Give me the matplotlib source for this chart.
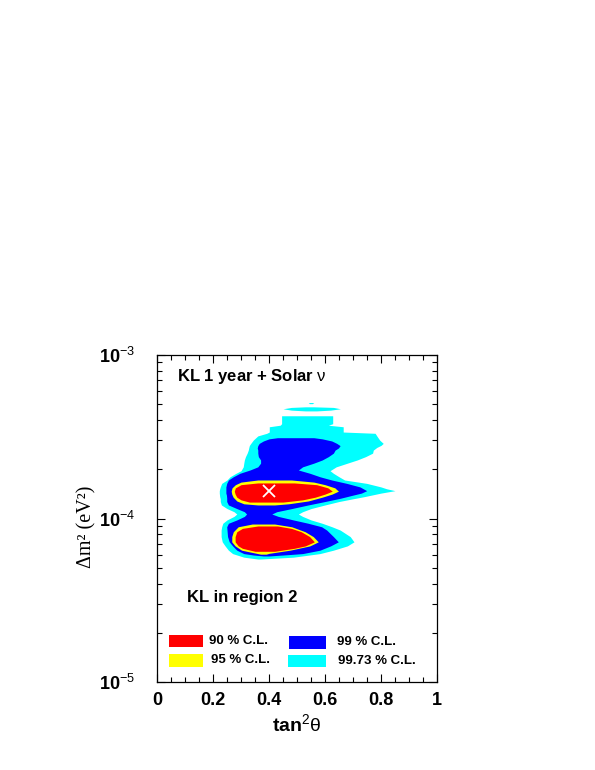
import matplotlib
matplotlib.use("Agg")
import matplotlib.pyplot as plt
from matplotlib.ticker import MultipleLocator, LogLocator, NullFormatter
from matplotlib.patches import Rectangle

plt.rcParams['font.family'] = ['Liberation Sans', 'DejaVu Sans']
plt.rcParams['mathtext.fontset'] = 'custom'
plt.rcParams['mathtext.rm'] = 'Liberation Sans'
plt.rcParams['mathtext.bf'] = 'Liberation Sans:bold'
plt.rcParams['mathtext.it'] = 'Liberation Sans:italic'

# ---------------- data (tan^2 theta, delta m^2) ----------------
# 99.73 % C.L. region (main body): rows of dm2 with left/right tan^2 edges
cyan_dm2 = [4.25e-4, 3.80e-4, 3.72e-4, 3.64e-4, 3.38e-4, 3.32e-4, 3.20e-4, 3.02e-4,
            2.88e-4, 2.80e-4, 2.72e-4, 2.62e-4, 2.51e-4, 2.39e-4, 2.28e-4, 2.18e-4,
            2.07e-4, 1.96e-4, 1.89e-4, 1.80e-4, 1.72e-4, 1.64e-4, 1.56e-4, 1.52e-4,
            1.48e-4, 1.43e-4, 1.36e-4, 1.32e-4, 1.27e-4, 1.21e-4, 1.15e-4, 1.10e-4,
            1.065e-4, 1.03e-4, 9.8e-5, 9.35e-5, 8.9e-5, 8.5e-5, 7.75e-5, 7.2e-5,
            6.8e-5, 6.4e-5, 6.1e-5, 5.8e-5, 5.65e-5]
cyan_left = [0.445, 0.445, 0.44, 0.401, 0.401, 0.392, 0.36, 0.344,
             0.335, 0.33, 0.328, 0.326, 0.322, 0.316, 0.312, 0.31,
             0.308, 0.30, 0.282, 0.261, 0.25, 0.231, 0.226, 0.224,
             0.2225, 0.2225, 0.224, 0.226, 0.226, 0.23, 0.25, 0.275,
             0.285, 0.275, 0.25, 0.235, 0.231, 0.229, 0.229, 0.233,
             0.243, 0.255, 0.27, 0.31, 0.36]
cyan_right = [0.6275, 0.6275, 0.612, 0.665, 0.665, 0.779, 0.785, 0.795,
              0.808, 0.80, 0.785, 0.7725, 0.77, 0.745, 0.715, 0.68,
              0.64, 0.618, 0.63, 0.65, 0.67, 0.749, 0.80, 0.82,
              0.85, 0.80, 0.74, 0.70, 0.65, 0.60, 0.55, 0.52,
              0.505, 0.52, 0.55, 0.59, 0.625, 0.654, 0.69, 0.7036,
              0.68, 0.63, 0.582, 0.487, 0.37]
# 99.73 % C.L. small islands at high dm2
strip_dm2 = [4.82e-4, 4.78e-4, 4.69e-4, 4.60e-4, 4.55e-4]
strip_left = [0.53, 0.48, 0.45, 0.48, 0.53]
strip_right = [0.56, 0.63, 0.655, 0.62, 0.57]
dot_dm2 = [5.12e-4, 5.08e-4, 5.04e-4]
dot_left = [0.545, 0.54, 0.545]
dot_right = [0.555, 0.56, 0.555]

# 99 % C.L. region
blue_dm2 = [3.12e-4, 3.07e-4, 2.98e-4, 2.88e-4, 2.79e-4, 2.70e-4, 2.62e-4, 2.51e-4,
            2.39e-4, 2.28e-4, 2.18e-4, 2.07e-4, 1.98e-4, 1.89e-4, 1.80e-4, 1.72e-4,
            1.64e-4, 1.56e-4, 1.48e-4, 1.43e-4, 1.39e-4, 1.33e-4, 1.27e-4, 1.21e-4,
            1.15e-4, 1.10e-4, 1.065e-4, 1.03e-4, 9.8e-5, 9.35e-5, 8.9e-5, 8.5e-5,
            7.75e-5, 7.2e-5, 6.8e-5, 6.4e-5, 6.1e-5, 5.98e-5, 5.9e-5]
blue_left = [0.43, 0.40, 0.38, 0.365, 0.36, 0.358, 0.36, 0.36,
             0.362, 0.37, 0.37, 0.36, 0.332, 0.296, 0.2725, 0.255,
             0.249, 0.246, 0.246, 0.246, 0.248, 0.249, 0.249, 0.255,
             0.285, 0.312, 0.32, 0.312, 0.285, 0.255, 0.249, 0.25,
             0.252, 0.258, 0.27, 0.285, 0.31, 0.344, 0.38]
blue_right = [0.56, 0.59, 0.624, 0.642, 0.654, 0.648, 0.636, 0.63,
              0.612, 0.59, 0.56, 0.52, 0.505, 0.546, 0.582, 0.624,
              0.6775, 0.725, 0.749, 0.73, 0.70, 0.655, 0.60, 0.54,
              0.481, 0.4275, 0.41, 0.433, 0.487, 0.54, 0.588, 0.606,
              0.63, 0.6475, 0.62, 0.582, 0.52, 0.451, 0.40]

# 95 % C.L. regions (upper and lower lobe)
yu_dm2 = [1.72e-4, 1.67e-4, 1.61e-4, 1.54e-4, 1.47e-4, 1.41e-4, 1.35e-4, 1.28e-4, 1.23e-4, 1.21e-4]
yu_left = [0.36, 0.30, 0.28, 0.268, 0.265, 0.267, 0.272, 0.285, 0.31, 0.36]
yu_right = [0.48, 0.56, 0.60, 0.635, 0.648, 0.625, 0.59, 0.54, 0.47, 0.42]
yl_dm2 = [9.25e-5, 8.9e-5, 8.3e-5, 7.75e-5, 7.2e-5, 6.8e-5, 6.4e-5, 6.12e-5, 6.05e-5]
yl_left = [0.34, 0.29, 0.2725, 0.267, 0.267, 0.279, 0.302, 0.356, 0.37]
yl_right = [0.42, 0.481, 0.529, 0.558, 0.576, 0.546, 0.475, 0.40, 0.39]

# 90 % C.L. regions (upper and lower lobe)
ru_dm2 = [1.65e-4, 1.61e-4, 1.54e-4, 1.47e-4, 1.41e-4, 1.35e-4, 1.30e-4, 1.26e-4]
ru_left = [0.36, 0.30, 0.28, 0.276, 0.279, 0.285, 0.30, 0.33]
ru_right = [0.49, 0.57, 0.61, 0.626, 0.60, 0.565, 0.52, 0.45]
rl_dm2 = [9.0e-5, 8.7e-5, 8.3e-5, 7.75e-5, 7.2e-5, 6.8e-5, 6.57e-5, 6.3e-5]
rl_left = [0.36, 0.305, 0.285, 0.279, 0.279, 0.29, 0.305, 0.35]
rl_right = [0.43, 0.48, 0.515, 0.545, 0.562, 0.53, 0.49, 0.42]

# best fit point
bestfit_x = [0.40]
bestfit_dm2 = [1.47e-4]

# axes ticks / labels
xticks = [0, 0.2, 0.4, 0.6, 0.8, 1.0]
xticklabels = ["0", "0.2", "0.4", "0.6", "0.8", "1"]
yticks = [1e-5, 1e-4, 1e-3]
yticklabels = [r"10$^{\mathrm{-5}}$", r"10$^{\mathrm{-4}}$", r"10$^{\mathrm{-3}}$"]

legend_labels = ["90 % C.L.", "95 % C.L.", "99 % C.L.", "99.73 % C.L."]
legend_colors = ["#ff0000", "#ffff00", "#0000ff", "#00ffff"]

# ---------------- figure ----------------
fig = plt.figure(figsize=(5.95, 7.7), dpi=100)
ax = fig.add_axes([157 / 595, 1 - 682 / 770, 280 / 595, 327 / 770])
ax.set_yscale('log')
ax.set_xlim(0, 1)
ax.set_ylim(1e-5, 1e-3)

CYAN, BLUE, YELLOW, RED = "#00ffff", "#0000ff", "#ffff00", "#ff0000"
ax.fill_betweenx(cyan_dm2, cyan_left, cyan_right, color=CYAN, lw=0, zorder=1)
ax.fill_betweenx(strip_dm2, strip_left, strip_right, color=CYAN, lw=0, zorder=1)
ax.fill_betweenx(dot_dm2, dot_left, dot_right, color=CYAN, lw=0, zorder=1)
ax.fill_betweenx(blue_dm2, blue_left, blue_right, color=BLUE, lw=0, zorder=2)
ax.fill_betweenx(yu_dm2, yu_left, yu_right, color=YELLOW, lw=0, zorder=3)
ax.fill_betweenx(yl_dm2, yl_left, yl_right, color=YELLOW, lw=0, zorder=3)
ax.fill_betweenx(ru_dm2, ru_left, ru_right, color=RED, lw=0, zorder=4)
ax.fill_betweenx(rl_dm2, rl_left, rl_right, color=RED, lw=0, zorder=4)
ax.plot(bestfit_x, bestfit_dm2, marker='x', color='white', ms=8, mew=1.3,
        ls='none', zorder=5)

# ticks
ax.set_xticks(xticks)
ax.set_xticklabels(xticklabels, fontsize=13, fontweight='bold')
ax.xaxis.set_minor_locator(MultipleLocator(0.05))
ax.set_yticks(yticks)
ax.set_yticklabels(yticklabels, fontsize=13, fontweight='bold')
ax.yaxis.set_minor_locator(LogLocator(base=10, subs=[2, 3, 4, 5, 6, 7, 8, 9]))
ax.yaxis.set_minor_formatter(NullFormatter())
ax.tick_params(which='both', direction='in', top=True, right=True, width=0.8)
ax.tick_params(which='major', length=6)
ax.tick_params(which='minor', length=3.5)
ax.tick_params(axis='x', which='major', pad=7)
ax.tick_params(axis='y', which='major', pad=16)
for s in ax.spines.values():
    s.set_linewidth(0.9)

ax.set_xlabel(r"tan$^{\mathrm{2}}\mathrm{\theta}$", fontsize=14, fontweight='bold', labelpad=3)
ax.text(-0.252, 0.475, "Δm² (eV²)", transform=ax.transAxes, rotation=90,
        ha='center', va='center', fontsize=14.5, family=['Liberation Serif', 'DejaVu Serif'])

ax.text(0.071, 0.934, r"KL 1 year + Solar $\mathrm{\nu}$", transform=ax.transAxes,
        fontsize=12, fontweight='bold', ha='left', va='center')
ax.text(0.106, 0.258, "KL in region 2", transform=ax.transAxes,
        fontsize=12, fontweight='bold', ha='left', va='center')

# legend (manual layout)
leg_x = [0.044, 0.044, 0.472, 0.469]
leg_y = [0.106, 0.047, 0.102, 0.046]
leg_w = [0.121, 0.121, 0.131, 0.135]
leg_h = 0.038
txt_x = [0.186, 0.192, 0.642, 0.6475]
txt_y = [0.1254, 0.0688, 0.122, 0.064]
for i in range(4):
    ax.add_patch(Rectangle((leg_x[i], leg_y[i]), leg_w[i], leg_h, transform=ax.transAxes,
                           facecolor=legend_colors[i], edgecolor='none', zorder=6))
    ax.text(txt_x[i], txt_y[i], legend_labels[i], transform=ax.transAxes,
            fontsize=9.5, fontweight='bold', ha='left', va='center', zorder=6)

fig.savefig("out.png", dpi=100)
